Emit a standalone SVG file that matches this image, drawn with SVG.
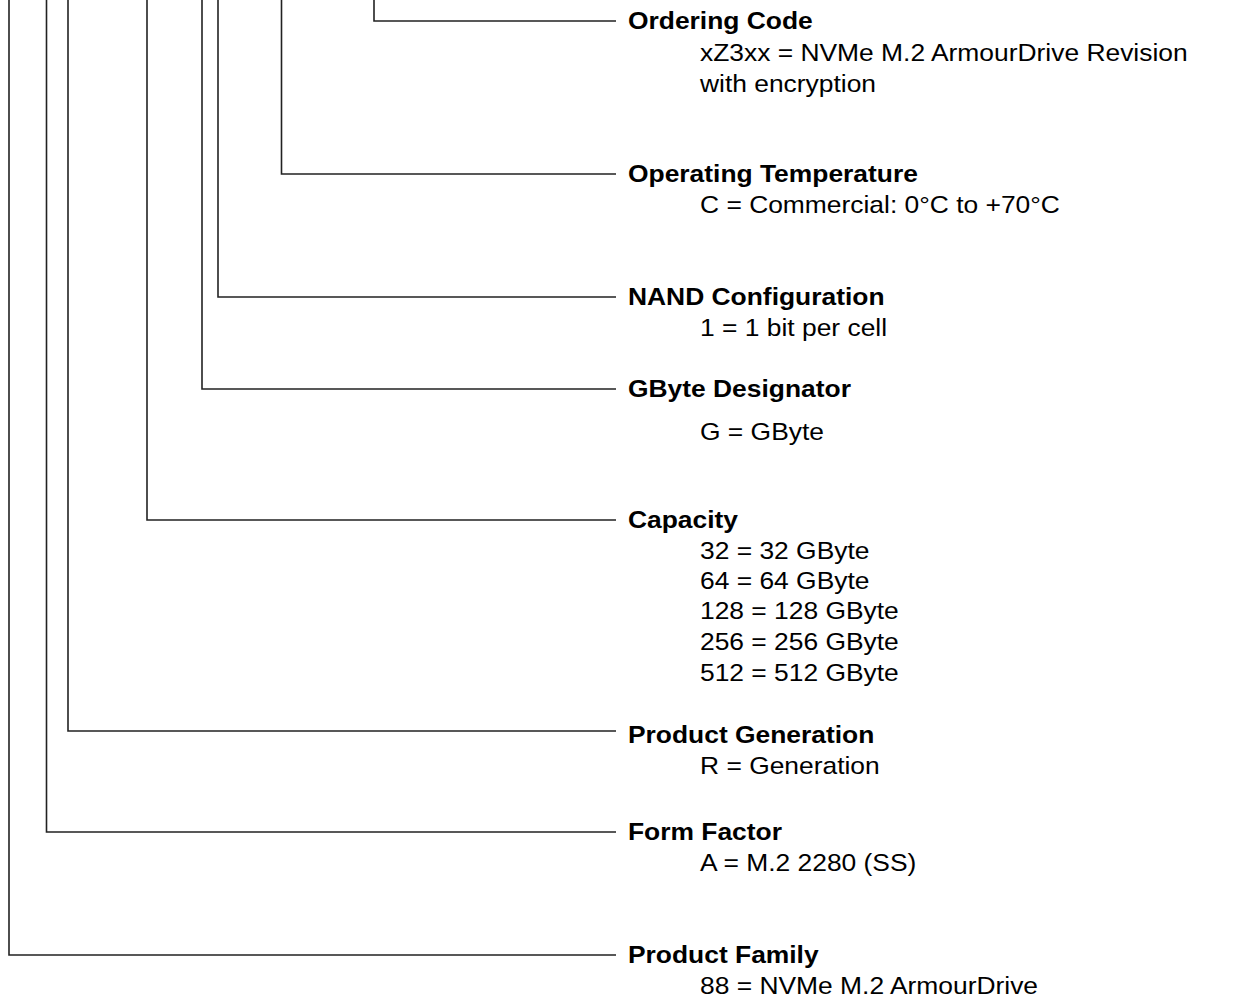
<svg xmlns="http://www.w3.org/2000/svg" width="1238" height="1007" viewBox="0 0 1238 1007">
<style>
.c{fill:none;stroke:#222;stroke-width:1.6}
.h{font-family:"Liberation Sans",Arial,sans-serif;font-size:24px;font-weight:bold;fill:#000}
.t{font-family:"Liberation Sans",Arial,sans-serif;font-size:24px;fill:#000}
</style>
<rect width="1238" height="1007" fill="#fff"/>
<g id="connectors">
<path class="c" d="M374 0V21H616"/>
<path class="c" d="M281.5 0V174H616"/>
<path class="c" d="M218 0V297H616"/>
<path class="c" d="M202 0V389H616"/>
<path class="c" d="M147 0V520H616"/>
<path class="c" d="M68 0V731H616"/>
<path class="c" d="M46.5 0V832H616"/>
<path class="c" d="M9 0V955H616"/>
</g>
<g id="ordering-code">
<text class="h" transform="translate(628 29) scale(1.1 1)">Ordering Code</text>
<text class="t" transform="translate(700 61) scale(1.1 1)">xZ3xx = NVMe M.2 ArmourDrive Revision</text>
<text class="t" transform="translate(700 92) scale(1.1 1)">with encryption</text>
</g>
<g id="operating-temperature">
<text class="h" transform="translate(628 182) scale(1.1 1)">Operating Temperature</text>
<text class="t" transform="translate(700 213) scale(1.1 1)">C = Commercial: 0°C to +70°C</text>
</g>
<g id="nand-configuration">
<text class="h" transform="translate(628 305) scale(1.1 1)">NAND Configuration</text>
<text class="t" transform="translate(700 336) scale(1.1 1)">1 = 1 bit per cell</text>
</g>
<g id="gbyte-designator">
<text class="h" transform="translate(628 397) scale(1.1 1)">GByte Designator</text>
<text class="t" transform="translate(700 440) scale(1.1 1)">G = GByte</text>
</g>
<g id="capacity">
<text class="h" transform="translate(628 528) scale(1.1 1)">Capacity</text>
<text class="t" transform="translate(700 559) scale(1.1 1)">32 = 32 GByte</text>
<text class="t" transform="translate(700 589) scale(1.1 1)">64 = 64 GByte</text>
<text class="t" transform="translate(700 619) scale(1.1 1)">128 = 128 GByte</text>
<text class="t" transform="translate(700 650) scale(1.1 1)">256 = 256 GByte</text>
<text class="t" transform="translate(700 681) scale(1.1 1)">512 = 512 GByte</text>
</g>
<g id="product-generation">
<text class="h" transform="translate(628 743) scale(1.1 1)">Product Generation</text>
<text class="t" transform="translate(700 774) scale(1.1 1)">R = Generation</text>
</g>
<g id="form-factor">
<text class="h" transform="translate(628 840) scale(1.1 1)">Form Factor</text>
<text class="t" transform="translate(700 871) scale(1.1 1)">A = M.2 2280 (SS)</text>
</g>
<g id="product-family">
<text class="h" transform="translate(628 963) scale(1.1 1)">Product Family</text>
<text class="t" transform="translate(700 994) scale(1.1 1)">88 = NVMe M.2 ArmourDrive</text>
</g>
</svg>
